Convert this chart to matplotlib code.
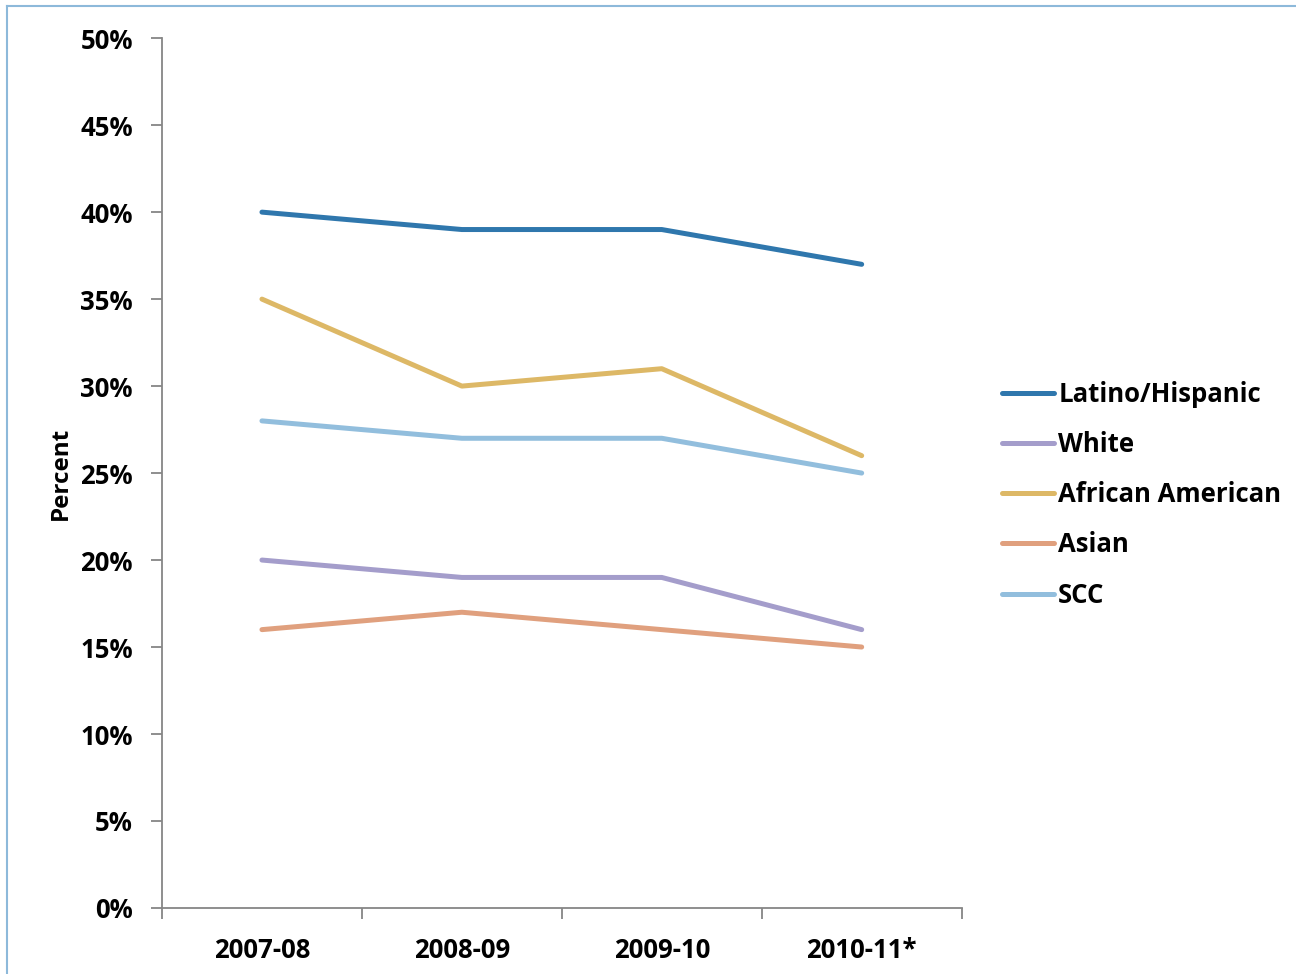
import matplotlib
matplotlib.use('Agg')
import matplotlib.pyplot as plt
from matplotlib.lines import Line2D
from matplotlib.ticker import FuncFormatter, FixedLocator

plt.rcParams['font.family'] = ['Open Sans', 'DejaVu Sans']
plt.rcParams['font.weight'] = 'bold'

years = ['2007-08', '2008-09', '2009-10', '2010-11*']
groups = ['Latino/Hispanic', 'White', 'African American', 'Asian', 'SCC']
latino = [40, 39, 39, 37]
white = [20, 19, 19, 16]
african_american = [35, 30, 31, 26]
asian = [16, 17, 16, 15]
scc = [28, 27, 27, 25]
colors = ['#2F77AD', '#A49DCB', '#DDB866', '#E0A07E', '#92BEDD']

fig = plt.figure(figsize=(12.96, 9.74), dpi=100)
ax = fig.add_axes([0.125, 0.0678, 0.617, 0.893])

x = range(len(years))
series = [latino, white, african_american, asian, scc]
handles = []
for name, vals, c in zip(groups, series, colors):
    ln, = ax.plot(x, vals, color=c, linewidth=3.6, solid_capstyle='round', label=name)
    handles.append(ln)

ax.set_xlim(-0.5, 3.5)
ax.set_ylim(0, 50)
ax.set_yticks(range(0, 51, 5))
ax.yaxis.set_major_formatter(FuncFormatter(lambda v, p: f'{int(v)}%'))
ax.set_xticks(list(x))
ax.set_xticklabels(years)
ax.xaxis.set_minor_locator(FixedLocator([-0.5, 0.5, 1.5, 2.5, 3.5]))
ax.tick_params(axis='x', which='major', length=0, pad=21, labelsize=18.5)
ax.tick_params(axis='x', which='minor', length=8, width=1.3, color='#868686')
ax.tick_params(axis='y', length=8, width=1.3, color='#868686', pad=13, labelsize=18.5)
for lab in ax.get_xticklabels() + ax.get_yticklabels():
    lab.set_fontweight('bold')

for s in ['top', 'right']:
    ax.spines[s].set_visible(False)
for s in ['left', 'bottom']:
    ax.spines[s].set_color('#868686')
    ax.spines[s].set_linewidth(1.3)

ax.set_ylabel('Percent', fontsize=17.5, fontweight='bold', labelpad=5)

fig.legend(handles=handles, loc='center left', bbox_to_anchor=(0.755, 0.492),
           frameon=False, handlelength=2.05, handletextpad=0.15,
           labelspacing=0.9, prop={'weight': 'bold', 'size': 18.5})

# outer frame along the top and left edges
fig.add_artist(Line2D([0.0054, 1.0], [0.9938, 0.9938], transform=fig.transFigure,
                      color='#8DB9DA', linewidth=1.5))
fig.add_artist(Line2D([0.0054, 0.0054], [0.0, 0.9938], transform=fig.transFigure,
                      color='#8DB9DA', linewidth=1.5))

fig.savefig('out.png', dpi=100)
